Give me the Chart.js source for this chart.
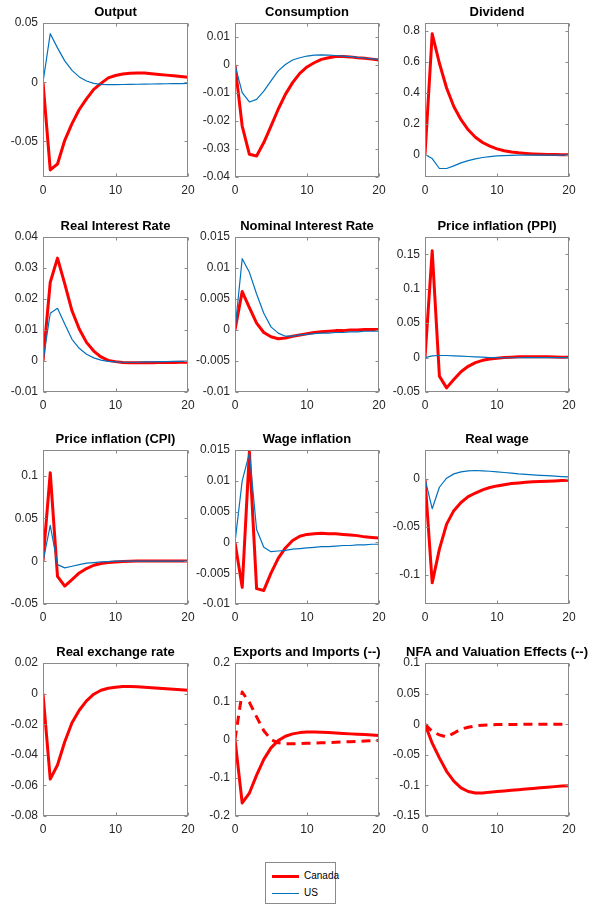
<!DOCTYPE html>
<html>
<head>
<meta charset="utf-8">
<script src="https://cdn.jsdelivr.net/npm/chart.js@4/dist/chart.umd.min.js"></script>
<style>
    body { margin: 0; background: #fff; }
    #page { position: relative; width: 590px; height: 909px; overflow: hidden; }
    #page canvas { position: absolute; }
    #legend {
        position: absolute; left: 265px; top: 862px; width: 69px; height: 40px;
        border: 1px solid #8a8a8a; background: #fff;
        font-family: "Liberation Sans", Arial, sans-serif; font-size: 10px; color: #000;
    }
    .item { position: absolute; left: 0; height: 14px; line-height: 14px; }
    .item span.ln { position: absolute; left: 6px; width: 27px; }
    .item span.tx { position: absolute; left: 38px; }
</style>
</head>
<body>
<div id="page">
    <div id="legend">
        <div class="item" style="top:6px"><span class="ln" style="top:6px;height:3px;background:#ff0000"></span><span class="tx">Canada</span></div>
        <div class="item" style="top:23px"><span class="ln" style="top:7px;height:1px;background:#0072bd"></span><span class="tx">US</span></div>
    </div>
</div>
<script>
// horizon (quarters)
const periods = [0,1,2,3,4,5,6,7,8,9,10,11,12,13,14,15,16,17,18,19,20];

const outputCanada = [0,-0.074,-0.069,-0.049,-0.035,-0.023,-0.014,-0.006,-0.001,0.0037,0.0057,0.0069,0.0076,0.0078,0.0077,0.0072,0.0066,0.006,0.0054,0.0048,0.0042];
const outputUS = [0,0.041,0.029,0.018,0.010,0.0045,0.001,-0.001,-0.0018,-0.002,-0.002,-0.0019,-0.0018,-0.0017,-0.0016,-0.0015,-0.0014,-0.0013,-0.0012,-0.0011,-0.001];

const consCanada = [0,-0.0218,-0.0319,-0.0325,-0.0277,-0.0218,-0.0158,-0.0105,-0.0063,-0.003,-0.0007,0.0008,0.002,0.0026,0.003,0.003,0.0029,0.0026,0.0024,0.0021,0.0018];
const consUS = [0,-0.0099,-0.0132,-0.0123,-0.0093,-0.0057,-0.0021,0.0002,0.0018,0.0026,0.0032,0.0035,0.0036,0.0035,0.0034,0.0032,0.003,0.0027,0.0025,0.0022,0.002];

const divCanada = [0,0.78,0.59,0.43,0.31,0.225,0.16,0.112,0.078,0.054,0.037,0.025,0.017,0.011,0.007,0.004,0.002,0.001,0,-0.001,-0.001];
const divUS = [0,-0.026,-0.09,-0.09,-0.073,-0.054,-0.039,-0.028,-0.019,-0.013,-0.009,-0.007,-0.005,-0.004,-0.004,-0.004,-0.004,-0.004,-0.004,-0.004,-0.004];

const rirCanada = [0,0.0254,0.0332,0.0249,0.0162,0.0103,0.006,0.0032,0.0013,0.0002,-0.0002,-0.0005,-0.0006,-0.0006,-0.0006,-0.0006,-0.0005,-0.0005,-0.0005,-0.0004,-0.0004];
const rirUS = [0,0.0154,0.017,0.0119,0.007,0.0041,0.0022,0.001,0.0003,-0.0001,-0.0003,-0.0004,-0.0004,-0.0004,-0.0003,-0.0003,-0.0002,-0.0002,-0.0001,-0.0001,-0.0001];

const nirCanada = [0,0.0062,0.0036,0.0011,-0.0004,-0.0011,-0.0014,-0.0013,-0.001,-0.0008,-0.0006,-0.0004,-0.0003,-0.0002,-0.0001,-0.0001,0,0,0.0001,0.0001,0.0001];
const nirUS = [0,0.0115,0.0093,0.0058,0.0027,0.0005,-0.0005,-0.001,-0.001,-0.0008,-0.0007,-0.0006,-0.0005,-0.0005,-0.0004,-0.0004,-0.0003,-0.0003,-0.0002,-0.0002,-0.0002];

const ppiCanada = [0,0.155,-0.027,-0.044,-0.032,-0.0205,-0.0127,-0.0073,-0.004,-0.002,-0.001,0,0.0005,0.001,0.001,0.001,0.001,0.001,0.0008,0.0006,0.0005];
const ppiUS = [0,0.0024,0.003,0.003,0.0025,0.002,0.0015,0.001,0.0005,0,-0.0002,-0.0003,-0.0003,-0.0003,-0.0002,-0.0002,-0.0002,-0.0001,-0.0001,-0.0001,-0.0001];

const cpiCanada = [0,0.1035,-0.0176,-0.029,-0.0215,-0.0137,-0.0086,-0.0047,-0.0027,-0.0016,-0.0008,-0.0004,0,0.0004,0.0004,0.0004,0.0004,0.0004,0.0004,0.0004,0.0004];
const cpiUS = [0,0.042,-0.004,-0.0078,-0.0059,-0.004,-0.0023,-0.0016,-0.0008,-0.0004,0,0,0,0,0,0,0,0,0,0,0];

const wageCanada = [0,-0.0073,0.0147,-0.0075,-0.0078,-0.005,-0.0026,-0.0009,0.0003,0.001,0.0013,0.0014,0.0015,0.0014,0.0014,0.0013,0.0012,0.0011,0.0009,0.0008,0.0007];
const wageUS = [0,0.01,0.0145,0.0021,-0.0008,-0.0015,-0.0014,-0.0013,-0.0011,-0.001,-0.0009,-0.0008,-0.0007,-0.0007,-0.0006,-0.0005,-0.0005,-0.0004,-0.0004,-0.0003,-0.0003];

const rwCanada = [0,-0.108,-0.073,-0.047,-0.033,-0.0245,-0.0185,-0.0147,-0.0115,-0.009,-0.0073,-0.006,-0.0049,-0.0042,-0.0036,-0.0031,-0.0028,-0.0024,-0.0021,-0.0017,-0.0014];
const rwUS = [0,-0.031,-0.0087,0.0007,0.0052,0.0073,0.0084,0.0087,0.0084,0.0079,0.0073,0.0066,0.0059,0.0052,0.0047,0.0042,0.0037,0.0033,0.0028,0.0024,0.0021];

const rerCanada = [0,-0.0559,-0.0467,-0.0315,-0.0191,-0.0109,-0.0048,-0.0004,0.0022,0.0035,0.0041,0.0046,0.0046,0.0044,0.0041,0.0038,0.0035,0.0032,0.0028,0.0025,0.0022];

const exportsCanada = [0,-0.166,-0.14,-0.093,-0.052,-0.022,-0.003,0.0086,0.0147,0.018,0.0198,0.0198,0.019,0.018,0.017,0.016,0.0147,0.0138,0.013,0.0117,0.0103];
const importsCanada = [0,0.124,0.097,0.059,0.023,0,-0.0086,-0.011,-0.011,-0.011,-0.010,-0.0095,-0.0086,-0.008,-0.0072,-0.0065,-0.0057,-0.005,-0.0042,-0.0034,-0.0026];

const nfaCanada = [0,-0.031,-0.055,-0.077,-0.093,-0.104,-0.11,-0.1125,-0.1125,-0.111,-0.11,-0.109,-0.108,-0.107,-0.106,-0.105,-0.104,-0.103,-0.102,-0.101,-0.1005];
const valuationCanada = [0,-0.012,-0.0174,-0.021,-0.0147,-0.008,-0.005,-0.0027,-0.0016,-0.001,-0.0005,-0.0005,-0.0004,-0.0003,-0.0002,-0.0002,-0.0001,-0.0001,0,0,0];

// tick labels
const xTicks = [0, 10, 20];
const outputTicks = [-0.05, 0, 0.05];
const consTicks = [-0.04, -0.03, -0.02, -0.01, 0, 0.01];
const divTicks = [0, 0.2, 0.4, 0.6, 0.8];
const rirTicks = [-0.01, 0, 0.01, 0.02, 0.03, 0.04];
const nirTicks = [-0.01, -0.005, 0, 0.005, 0.01, 0.015];
const ppiTicks = [-0.05, 0, 0.05, 0.1, 0.15];
const cpiTicks = [-0.05, 0, 0.05, 0.1];
const wageTicks = [-0.01, -0.005, 0, 0.005, 0.01, 0.015];
const rwTicks = [-0.1, -0.05, 0];
const rerTicks = [-0.08, -0.06, -0.04, -0.02, 0, 0.02];
const exTicks = [-0.2, -0.1, 0, 0.1, 0.2];
const nfaTicks = [-0.15, -0.1, -0.05, 0, 0.05, 0.1];

// axes boxes in the figure
const colLeft = [43, 235, 425];
const colWidth = [145, 144, 144];
const rowTop = [23, 237, 450, 663];
const rowHeight = [154, 155, 154, 153];

const RED = "#ff0000";
const BLUE = "#0072bd";
const FONT = "'Liberation Sans', Arial, Helvetica, sans-serif";

const panels = [
    { title: "Output", row: 0, col: 0, min: -0.08, max: 0.05, ticks: outputTicks, lines: [[outputCanada, RED], [outputUS, BLUE]] },
    { title: "Consumption", row: 0, col: 1, min: -0.04, max: 0.015, ticks: consTicks, lines: [[consCanada, RED], [consUS, BLUE]] },
    { title: "Dividend", row: 0, col: 2, min: -0.145, max: 0.85, ticks: divTicks, lines: [[divCanada, RED], [divUS, BLUE]] },
    { title: "Real Interest Rate", row: 1, col: 0, min: -0.01, max: 0.04, ticks: rirTicks, lines: [[rirCanada, RED], [rirUS, BLUE]] },
    { title: "Nominal Interest Rate", row: 1, col: 1, min: -0.01, max: 0.015, ticks: nirTicks, lines: [[nirCanada, RED], [nirUS, BLUE]] },
    { title: "Price inflation (PPI)", row: 1, col: 2, min: -0.05, max: 0.175, ticks: ppiTicks, lines: [[ppiCanada, RED], [ppiUS, BLUE]] },
    { title: "Price inflation (CPI)", row: 2, col: 0, min: -0.05, max: 0.13, ticks: cpiTicks, lines: [[cpiCanada, RED], [cpiUS, BLUE]] },
    { title: "Wage inflation", row: 2, col: 1, min: -0.01, max: 0.015, ticks: wageTicks, lines: [[wageCanada, RED], [wageUS, BLUE]] },
    { title: "Real wage", row: 2, col: 2, min: -0.13, max: 0.03, ticks: rwTicks, lines: [[rwCanada, RED], [rwUS, BLUE]] },
    { title: "Real exchange rate", row: 3, col: 0, min: -0.08, max: 0.02, ticks: rerTicks, lines: [[rerCanada, RED]] },
    { title: "Exports and Imports (--)", row: 3, col: 1, min: -0.2, max: 0.2, ticks: exTicks, lines: [[exportsCanada, RED], [importsCanada, RED, true]] },
    { title: "NFA and Valuation Effects (--)", row: 3, col: 2, min: -0.15, max: 0.1, ticks: nfaTicks, lines: [[nfaCanada, RED], [valuationCanada, RED, true]] },
];

// matlab style box with inward ticks on all four sides
const boxPlugin = {
    id: "matlabBox",
    afterDatasetsDraw(chart) {
        const { ctx, chartArea: a, scales } = chart;
        const l = Math.round(a.left) + 0.5, r = Math.round(a.right) - 0.5;
        const t = Math.round(a.top) + 0.5, b = Math.round(a.bottom) - 0.5;
        const tl = 3;
        ctx.save();
        ctx.strokeStyle = "#8a8a8a";
        ctx.lineWidth = 1;
        ctx.strokeRect(l, t, r - l, b - t);
        ctx.beginPath();
        scales.y.ticks.forEach(function (tk) {
            const y = Math.round(scales.y.getPixelForValue(tk.value)) + 0.5;
            ctx.moveTo(l, y); ctx.lineTo(l + tl, y);
            ctx.moveTo(r, y); ctx.lineTo(r - tl, y);
        });
        scales.x.ticks.forEach(function (tk) {
            const x = Math.round(scales.x.getPixelForValue(tk.value)) + 0.5;
            ctx.moveTo(x, b); ctx.lineTo(x, b - tl);
            ctx.moveTo(x, t); ctx.lineTo(x, t + tl);
        });
        ctx.stroke();
        ctx.restore();
    },
};

const page = document.getElementById("page");
const padSide = 48, padT = 24, padB = 22;

panels.forEach(function (p) {
    const L = colLeft[p.col], W = colWidth[p.col];
    const T = rowTop[p.row], H = rowHeight[p.row];
    const cv = document.createElement("canvas");
    cv.width = W + 2 * padSide;
    cv.height = H + padT + padB;
    cv.style.left = (L - padSide) + "px";
    cv.style.top = (T - padT) + "px";
    page.appendChild(cv);

    const datasets = p.lines.map(function (ln) {
        const thick = ln[1] === RED;
        return {
            data: periods.map(function (t, k) { return { x: t, y: ln[0][k] }; }),
            borderColor: ln[1],
            borderWidth: thick ? 3 : 1.2,
            borderDash: ln[2] ? [9, 6] : [],
            pointRadius: 0,
            tension: 0,
            borderJoinStyle: "round",
            fill: false,
            order: thick ? 2 : 1,
        };
    });

    new Chart(cv, {
        type: "line",
        data: { datasets: datasets },
        plugins: [boxPlugin],
        options: {
            responsive: false,
            animation: false,
            devicePixelRatio: 1,
            layout: { padding: 0 },
            plugins: {
                legend: { display: false },
                tooltip: { enabled: false },
                title: {
                    display: true,
                    text: p.title,
                    color: "#000",
                    font: { family: FONT, size: 13, weight: "bold", lineHeight: 1.2 },
                    padding: { top: 6, bottom: 2.4 },
                },
            },
            scales: {
                x: {
                    type: "linear",
                    min: 0,
                    max: 20,
                    grid: { display: false, drawTicks: false },
                    border: { display: false },
                    afterBuildTicks: function (s) { s.ticks = xTicks.map(function (v) { return { value: v }; }); },
                    afterFit: function (s) { s.height = padB; },
                    ticks: {
                        color: "#262626",
                        padding: 6,
                        maxRotation: 0,
                        font: { family: FONT, size: 12 },
                        callback: function (v) { return String(v); },
                    },
                },
                y: {
                    min: p.min,
                    max: p.max,
                    grid: { display: false, drawTicks: false },
                    border: { display: false },
                    afterBuildTicks: function (s) { s.ticks = p.ticks.map(function (v) { return { value: v }; }); },
                    afterFit: function (s) { s.width = padSide; },
                    ticks: {
                        color: "#262626",
                        padding: 5,
                        font: { family: FONT, size: 12 },
                        callback: function (v) { return String(v); },
                    },
                },
                // empty right axis so the title centres over the box
                yRight: {
                    position: "right",
                    min: 0,
                    max: 1,
                    grid: { display: false, drawTicks: false },
                    border: { display: false },
                    ticks: { display: false },
                    afterFit: function (s) { s.width = padSide; },
                },
            },
        },
    });
});
</script>
</body>
</html>
